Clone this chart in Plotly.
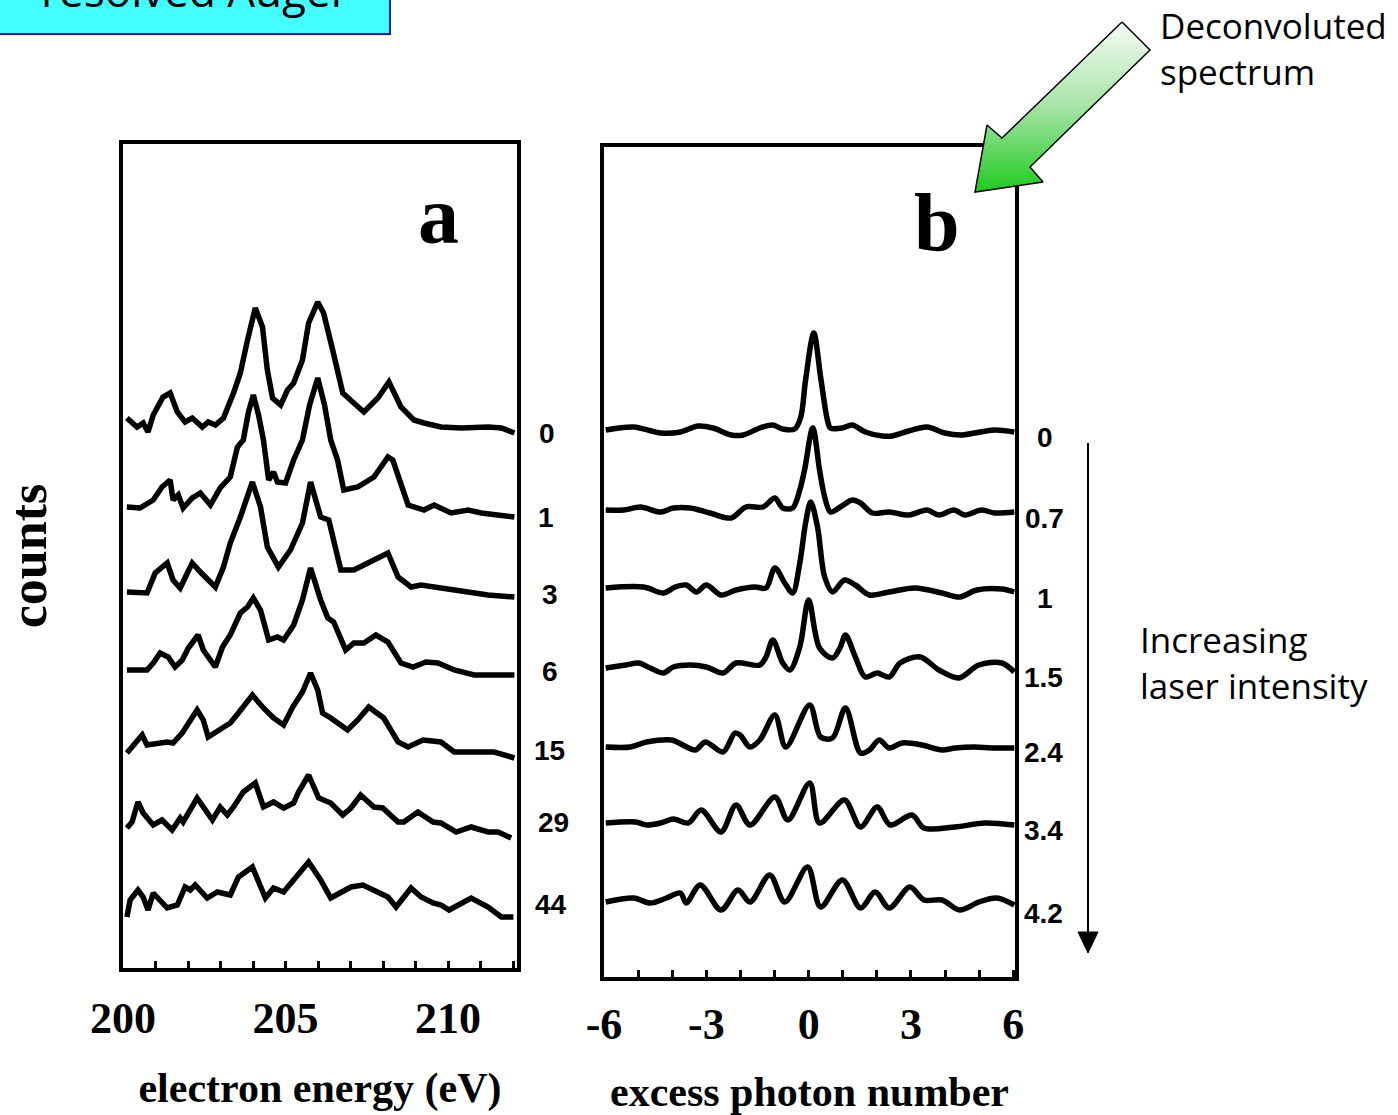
import plotly.graph_objects as go

W, H = 1398, 1115

# ---- panel a: Auger electron spectra, one per delay ----
energy_0 = [200.12, 200.43, 200.62, 200.77, 200.93, 201.23, 201.45, 201.67, 201.91, 202.13, 202.44, 202.62, 202.84, 203.09, 203.40, 203.61, 203.83, 204.07, 204.29, 204.44, 204.60, 204.85, 205.06, 205.25, 205.52, 205.71, 205.99, 206.17, 206.45, 206.76, 207.10, 207.41, 207.84, 208.18, 208.55, 208.95, 209.26, 209.78, 210.40, 211.23, 211.64, 212.04]
counts_0 = [550, 541, 545, 536, 553, 571, 575, 556, 546, 550, 541, 546, 543, 550, 575, 595, 628, 660, 641, 598, 570, 563, 578, 585, 608, 645, 666, 655, 618, 575, 565, 556, 570, 586, 561, 548, 545, 541, 540, 541, 540, 535]

energy_1 = [200.12, 200.52, 200.93, 201.20, 201.45, 201.54, 201.70, 201.85, 202.13, 202.38, 202.69, 202.99, 203.30, 203.52, 203.70, 203.86, 204.01, 204.17, 204.32, 204.48, 204.63, 204.75, 205.00, 205.25, 205.52, 205.74, 205.99, 206.20, 206.39, 206.60, 206.79, 207.22, 207.72, 208.15, 208.30, 208.77, 209.26, 209.57, 210.09, 210.62, 211.02, 212.04]
counts_1 = [461, 460, 468, 481, 488, 468, 473, 460, 470, 475, 463, 480, 491, 521, 528, 556, 573, 553, 528, 488, 496, 486, 485, 508, 528, 563, 590, 563, 528, 508, 478, 481, 491, 511, 508, 463, 458, 463, 455, 458, 455, 451]

energy_2 = [200.12, 200.52, 200.74, 200.99, 201.36, 201.54, 201.76, 201.98, 202.13, 202.38, 202.84, 203.09, 203.30, 203.61, 203.83, 203.98, 204.23, 204.44, 204.78, 205.15, 205.52, 205.77, 206.08, 206.33, 206.70, 207.10, 207.72, 208.15, 208.46, 208.86, 209.17, 209.78, 210.62, 211.23, 212.04]
counts_2 = [376, 376, 375, 395, 405, 388, 380, 395, 405, 396, 381, 401, 425, 451, 473, 486, 461, 421, 401, 418, 445, 486, 451, 448, 398, 398, 408, 415, 391, 381, 383, 380, 375, 373, 371]

energy_3 = [200.12, 200.74, 200.93, 201.14, 201.39, 201.60, 201.82, 202.01, 202.31, 202.47, 202.84, 203.06, 203.30, 203.61, 203.83, 204.01, 204.23, 204.48, 204.75, 204.94, 205.25, 205.52, 205.77, 206.08, 206.30, 206.48, 206.85, 207.10, 207.41, 207.78, 208.15, 208.55, 208.92, 209.32, 209.69, 210.19, 210.80, 212.04]
counts_3 = [298, 298, 305, 315, 311, 301, 308, 320, 333, 318, 301, 321, 333, 355, 361, 370, 358, 328, 331, 328, 343, 368, 400, 368, 350, 346, 318, 325, 325, 333, 326, 305, 301, 306, 305, 298, 293, 293]

energy_4 = [200.12, 200.37, 200.59, 200.74, 201.36, 201.54, 201.82, 202.28, 202.47, 202.62, 202.99, 203.30, 203.55, 203.98, 204.32, 204.63, 204.94, 205.22, 205.52, 205.77, 205.99, 206.14, 206.39, 206.91, 207.22, 207.56, 208.02, 208.46, 208.77, 209.23, 209.78, 210.19, 211.42, 212.04]
counts_4 = [215, 225, 233, 223, 226, 225, 235, 258, 248, 231, 238, 245, 255, 273, 260, 250, 243, 261, 276, 295, 278, 255, 250, 238, 248, 261, 250, 226, 221, 228, 226, 216, 216, 210]

energy_5 = [200.12, 200.28, 200.46, 200.62, 200.93, 201.20, 201.51, 201.76, 201.85, 202.28, 202.75, 202.99, 203.21, 203.40, 203.70, 204.07, 204.32, 204.63, 204.94, 205.25, 205.40, 205.71, 206.02, 206.39, 206.76, 207.01, 207.31, 207.72, 207.99, 208.46, 208.64, 209.07, 209.54, 209.78, 210.25, 210.71, 211.23, 211.54, 211.94]
counts_5 = [140, 146, 166, 155, 143, 148, 138, 150, 146, 170, 148, 161, 153, 161, 176, 185, 161, 166, 160, 165, 176, 193, 170, 165, 153, 160, 173, 161, 160, 146, 146, 156, 146, 145, 136, 141, 136, 136, 130]

energy_6 = [200.12, 200.22, 200.46, 200.62, 200.77, 200.93, 201.36, 201.67, 201.91, 202.07, 202.22, 202.59, 202.90, 203.30, 203.55, 203.98, 204.38, 204.63, 204.94, 205.37, 205.71, 206.08, 206.39, 207.01, 207.38, 208.15, 208.40, 208.86, 209.17, 209.54, 209.78, 210.03, 210.71, 211.23, 211.64, 212.01]
counts_6 = [51, 68, 78, 71, 58, 75, 60, 63, 81, 78, 83, 70, 76, 73, 91, 101, 70, 80, 76, 93, 106, 88, 70, 81, 83, 71, 61, 80, 71, 65, 63, 58, 70, 61, 51, 51]

delay_labels = ["0", "1", "3", "6", "15", "29", "44"]

# ---- panel b: deconvoluted sideband spectra, one per laser intensity ----
photon_0 = [-5.95, -5.13, -4.34, -3.76, -3.24, -2.80, -2.27, -1.92, -1.43, -1.05, -0.76, -0.41, -0.23, -0.09, 0.15, 0.35, 0.55, 0.64, 0.99, 1.28, 1.66, 2.16, 2.45, 2.94, 3.47, 3.99, 4.49, 4.87, 5.45, 6.03]
signal_0 = [547, 550, 544, 545, 551, 549, 542, 542, 549, 552, 548, 548, 560, 597, 644, 600, 557, 549, 549, 552, 545, 541, 541, 546, 550, 544, 542, 544, 547, 545]

photon_1 = [-5.95, -5.42, -4.93, -4.34, -3.97, -3.47, -2.89, -2.27, -1.84, -1.34, -0.99, -0.76, -0.47, -0.26, -0.12, 0.12, 0.32, 0.47, 0.64, 0.93, 1.28, 1.52, 1.87, 2.36, 2.94, 3.47, 3.82, 4.26, 4.58, 5.07, 5.45, 6.03]
signal_1 = [467, 467, 470, 465, 469, 469, 464, 459, 470, 470, 479, 469, 469, 487, 507, 549, 507, 480, 465, 470, 477, 474, 464, 465, 462, 467, 462, 467, 462, 467, 464, 465]

photon_2 = [-5.95, -4.84, -4.26, -3.91, -3.59, -3.29, -3.00, -2.57, -2.13, -1.57, -1.25, -0.99, -0.70, -0.47, -0.26, -0.09, 0.06, 0.26, 0.47, 0.70, 1.05, 1.37, 1.78, 2.36, 3.12, 3.91, 4.43, 4.93, 5.66, 6.03]
signal_2 = [389, 390, 384, 390, 392, 385, 392, 382, 387, 390, 389, 409, 394, 384, 414, 454, 475, 450, 400, 385, 397, 392, 382, 385, 389, 384, 380, 387, 388, 385]

photon_3 = [-5.95, -5.36, -4.99, -4.64, -4.26, -3.97, -3.47, -3.00, -2.51, -2.13, -1.43, -1.25, -1.05, -0.76, -0.55, -0.26, 0.00, 0.32, 0.70, 0.93, 1.08, 1.37, 1.66, 2.01, 2.36, 2.68, 3.27, 3.82, 4.40, 4.99, 5.66, 6.03]
signal_3 = [309, 312, 314, 309, 304, 310, 312, 310, 304, 314, 312, 320, 337, 314, 307, 330, 377, 329, 319, 330, 342, 320, 300, 304, 300, 314, 320, 307, 299, 312, 314, 305]

photon_4 = [-5.95, -5.22, -4.75, -4.02, -3.32, -3.03, -2.51, -2.16, -2.01, -1.72, -1.43, -0.99, -0.67, 0.03, 0.35, 0.70, 1.08, 1.52, 1.78, 2.07, 2.36, 2.74, 3.32, 3.91, 4.29, 4.87, 5.36, 6.03]
signal_4 = [230, 230, 235, 237, 227, 235, 225, 244, 242, 230, 237, 262, 230, 272, 240, 239, 269, 224, 227, 237, 229, 234, 232, 227, 229, 230, 229, 229]

photon_5 = [-5.95, -5.07, -4.75, -4.34, -3.97, -3.53, -3.15, -2.57, -2.13, -1.72, -0.99, -0.61, 0.03, 0.32, 1.05, 1.52, 2.01, 2.39, 3.03, 3.38, 4.29, 5.16, 6.03]
signal_5 = [154, 155, 152, 154, 158, 154, 167, 145, 172, 152, 180, 157, 194, 154, 177, 150, 170, 152, 162, 149, 150, 154, 152]

photon_6 = [-5.95, -5.13, -4.64, -4.17, -3.76, -3.59, -3.18, -2.57, -2.07, -1.72, -1.14, -0.70, -0.03, 0.35, 0.99, 1.52, 1.95, 2.36, 2.97, 3.38, 3.91, 4.43, 4.99, 5.51, 6.03]
signal_6 = [75, 79, 74, 79, 84, 74, 92, 67, 87, 75, 102, 75, 110, 70, 97, 69, 85, 69, 90, 77, 77, 67, 75, 79, 72]

intensity_labels = ["0", "0.7", "1", "1.5", "2.4", "3.4", "4.2"]

energy_ticks = list(range(200, 213))
photon_ticks = list(range(-6, 7))

# ---- layout helpers (figure pixels) ----
SERIF = "Liberation Serif"
SANS = "Liberation Sans"
HAND = "Open Sans"

delay_label_pos = [(547, 433), (546, 517), (550, 594), (550, 671), (549, 750), (553, 822), (551, 904)]
intensity_label_pos = [(1045, 437), (1044, 518), (1045, 598), (1043, 677), (1043, 752), (1043, 830), (1043, 913)]

fig = go.Figure()

panel_a = [(energy_0, counts_0), (energy_1, counts_1), (energy_2, counts_2), (energy_3, counts_3),
           (energy_4, counts_4), (energy_5, counts_5), (energy_6, counts_6)]
for (ex, cy), name in zip(panel_a, delay_labels):
    fig.add_trace(go.Scatter(x=ex, y=cy, mode="lines", name=name,
                             line=dict(color="black", width=5.5, shape="linear"),
                             xaxis="x", yaxis="y", showlegend=False, hoverinfo="skip"))

panel_b = [(photon_0, signal_0), (photon_1, signal_1), (photon_2, signal_2), (photon_3, signal_3),
           (photon_4, signal_4), (photon_5, signal_5), (photon_6, signal_6)]
for (px_, cy), name in zip(panel_b, intensity_labels):
    fig.add_trace(go.Scatter(x=px_, y=cy, mode="lines", name=name,
                             line=dict(color="black", width=5.5, shape="spline", smoothing=0.9),
                             xaxis="x2", yaxis="y2", showlegend=False, hoverinfo="skip"))

# green block arrow pointing at panel b (drawn on a full-figure pixel axis)
arrow_x = [1122, 1150, 1030, 1043, 975, 987, 1002, 1122]
arrow_y = [22, 50, 167, 182, 192, 125, 138, 22]
fig.add_trace(go.Scatter(
    x=arrow_x, y=arrow_y, mode="lines", fill="toself",
    fillgradient=dict(type="vertical", start=22, stop=192,
                      colorscale=[[0, "#f7fcf7"], [0.5, "#a6e3a6"], [1, "#1ecb1e"]]),
    line=dict(color="black", width=1.5), xaxis="x3", yaxis="y3",
    showlegend=False, hoverinfo="skip"))

frame = dict(showline=True, linecolor="black", linewidth=4, mirror=True,
             showgrid=False, zeroline=False, automargin=False)

tick_font = dict(family=SERIF, size=44, color="black", weight="bold")
title_font = dict(family=SERIF, size=42, color="black", weight="bold")
label_font = dict(family=SANS, size=28, color="black", weight="bold")

annotations = []
for (x, y), t in zip(delay_label_pos, delay_labels):
    annotations.append(dict(x=x, y=y, xref="x3", yref="y3", text=t, showarrow=False, font=label_font))
for (x, y), t in zip(intensity_label_pos, intensity_labels):
    annotations.append(dict(x=x, y=y, xref="x3", yref="y3", text=t, showarrow=False, font=label_font))
annotations += [
    dict(x=438, y=215, xref="x3", yref="y3", text="a", showarrow=False,
         font=dict(family=SERIF, size=82, color="black", weight="bold")),
    dict(x=937, y=222, xref="x3", yref="y3", text="b", showarrow=False,
         font=dict(family=SERIF, size=82, color="black", weight="bold")),
    dict(x=1158, y=48, xref="x3", yref="y3", xanchor="left", yanchor="middle", align="left",
         text="Deconvoluted<br>spectrum", showarrow=False,
         font=dict(family=HAND, size=35, color="black")),
    dict(x=1138, y=662, xref="x3", yref="y3", xanchor="left", yanchor="middle", align="left",
         text="Increasing<br>laser intensity", showarrow=False,
         font=dict(family=HAND, size=35, color="black")),
    dict(x=195 / W, y=1 - 22 / H, xref="paper", yref="paper", xanchor="center", yanchor="bottom",
         text="resolved Auger", showarrow=False,
         font=dict(family=HAND, size=44, color="black")),
]

shapes = [
    # header box at the top-left corner
    dict(type="rect", xref="x3", yref="y3", x0=-4, y0=-4, x1=390, y1=34,
         fillcolor="#44ffff", line=dict(color="#1a1ad0", width=2), layer="below"),
    # "increasing intensity" arrow
    dict(type="line", xref="x3", yref="y3", x0=1088, y0=443, x1=1088, y1=936,
         line=dict(color="black", width=2)),
    dict(type="path", xref="x3", yref="y3", path="M 1078 932 L 1098 932 L 1088 953 Z",
         fillcolor="black", line=dict(color="black", width=1)),
]

fig.update_layout(
    width=W, height=H, autosize=False,
    margin=dict(l=0, r=0, t=0, b=0, pad=0, autoexpand=False),
    paper_bgcolor="white", plot_bgcolor="rgba(0,0,0,0)",
    xaxis=dict(domain=[123 / W, 517 / W], range=[200, 212.12], anchor="y",
               tickmode="array", tickvals=energy_ticks,
               ticktext=[str(v) if v % 5 == 0 else "" for v in energy_ticks],
               ticks="inside", ticklen=7, tickwidth=3, tickcolor="black",
               tickfont=tick_font, ticklabelstandoff=8,
               title=dict(text="electron energy (eV)", font=title_font, standoff=32),
               **frame),
    yaxis=dict(domain=[1 - 968 / H, 1 - 144 / H], range=[0, 824], anchor="x",
               showticklabels=False, ticks="",
               title=dict(text="counts", font=dict(family=SERIF, size=52, color="black", weight="bold"),
                          standoff=75),
               **frame),
    xaxis2=dict(domain=[604 / W, 1015 / W], range=[-6, 6.05], anchor="y2",
                tickmode="array", tickvals=photon_ticks,
                ticktext=[str(v) if v % 3 == 0 else "" for v in photon_ticks],
                ticks="inside", ticklen=7, tickwidth=3, tickcolor="black",
                tickfont=tick_font, ticklabelstandoff=5,
                title=dict(text="excess photon number", font=title_font, standoff=42),
                **frame),
    yaxis2=dict(domain=[1 - 977 / H, 1 - 147 / H], range=[0, 830], anchor="x2",
                showticklabels=False, ticks="", **frame),
    xaxis3=dict(domain=[0, 1], range=[0, W], anchor="y3", visible=False, fixedrange=True),
    yaxis3=dict(domain=[0, 1], range=[H, 0], anchor="x3", visible=False, fixedrange=True),
    annotations=annotations,
    shapes=shapes,
)

fig.write_html("out.html")
